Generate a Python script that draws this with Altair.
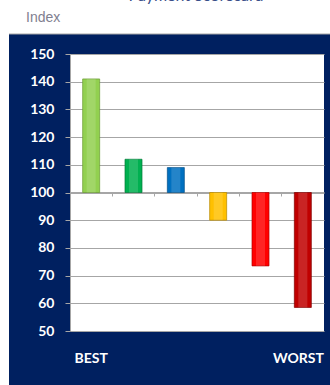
import altair as alt
import pandas as pd

categories = ["BEST", "2nd", "3rd", "4th", "5th", "WORST"]
end_labels = ["BEST", "", "", "", "", "WORST"]
values = [141, 112, 109, 90, 73.5, 58.5]
baseline = [100, 100, 100, 100, 100, 100]
colors = ["#92d050", "#00b050", "#0070c0", "#ffc000", "#ff0000", "#c00000"]
edge_colors = ["#6a9a30", "#007a38", "#004f88", "#b88a00", "#b00000", "#800000"]
y_ticks = [50, 60, 70, 80, 90, 100, 110, 120, 130, 140, 150]

df = pd.DataFrame({"cat": categories, "label": end_labels, "value": values, "base": baseline})
one = pd.DataFrame({"a": [0]})

NAVY = "#002060"
GRID = "#a6a6a6"

x_scale = alt.Scale(domain=categories, paddingInner=0, paddingOuter=0)
y_scale = alt.Scale(domain=[50, 150], nice=False, zero=False)

x_enc = alt.X(
    "cat:N",
    sort=categories,
    scale=x_scale,
    axis=alt.Axis(
        title=None, orient="bottom", offset=-139, bandPosition=0,
        labels=False, tickSize=4, tickColor=GRID, domainColor=GRID, grid=False,
    ),
)
y_enc = alt.Y(
    "value:Q",
    scale=y_scale,
    axis=alt.Axis(
        values=y_ticks, title=None, grid=True, gridColor=GRID,
        domainColor=GRID, tickColor=GRID, tickSize=5, labelPadding=11,
        labelColor="white", labelFont="Lato", labelFontSize=14,
        labelFontWeight="bold", labelOverlap=False,
    ),
)

bars = alt.Chart(df).mark_bar(size=17, strokeWidth=1, strokeOpacity=0.7).encode(
    x=x_enc,
    y=y_enc,
    y2="base:Q",
    color=alt.Color("cat:N", sort=categories,
                    scale=alt.Scale(domain=categories, range=colors), legend=None),
    stroke=alt.Color("cat:N", sort=categories,
                     scale=alt.Scale(domain=categories, range=edge_colors),
                     legend=None),
)
shine = alt.Chart(df).mark_bar(size=9, color="white", opacity=0.14).encode(
    x=x_enc,
    y=y_enc,
    y2="base:Q",
)

best_lbl = alt.Chart(df).transform_filter("datum.label == 'BEST'").mark_text(
    font="Lato", fontSize=14, fontWeight="bold", color="white",
    align="center", baseline="middle").encode(
    x=x_enc, y=alt.value(305), text="label:N")
worst_lbl = alt.Chart(df).transform_filter("datum.label == 'WORST'").mark_text(
    font="Lato", fontSize=14, fontWeight="bold", color="white",
    align="right", baseline="middle", dx=21).encode(
    x=x_enc, y=alt.value(305), text="label:N")

white_top = alt.Chart(one).mark_rect(color="white").encode(
    x=alt.value(-70), x2=alt.value(260), y=alt.value(-54), y2=alt.value(-20))
white_left = alt.Chart(one).mark_rect(color="white").encode(
    x=alt.value(-70), x2=alt.value(-61), y=alt.value(-54), y2=alt.value(331))
top_line = alt.Chart(one).mark_rule(color=GRID, strokeWidth=1).encode(
    x=alt.value(-61), x2=alt.value(260), y=alt.value(-20))

index_txt = alt.Chart(one).mark_text(
    text="Index", font="Liberation Sans", fontSize=14, color="#7f8090",
    align="left", baseline="alphabetic").encode(x=alt.value(-44), y=alt.value(-32))
title_txt = alt.Chart(one).mark_text(
    text="Payment Scorecard", font="Lato", fontSize=16,
    color="#3a4f8a", align="center", baseline="alphabetic").encode(
    x=alt.value(126), y=alt.value(-53))

chart = alt.layer(white_top, white_left, top_line, index_txt, title_txt,
                  bars, shine, best_lbl, worst_lbl).properties(
    width=254, height=277,
    background=NAVY,
    autosize=alt.AutoSizeParams(type="none"),
    padding={"left": 70, "top": 54, "right": 6, "bottom": 54},
).configure_view(fill="white", stroke=None)

chart.save("out.html", embed_options={"renderer": "svg", "actions": False})
